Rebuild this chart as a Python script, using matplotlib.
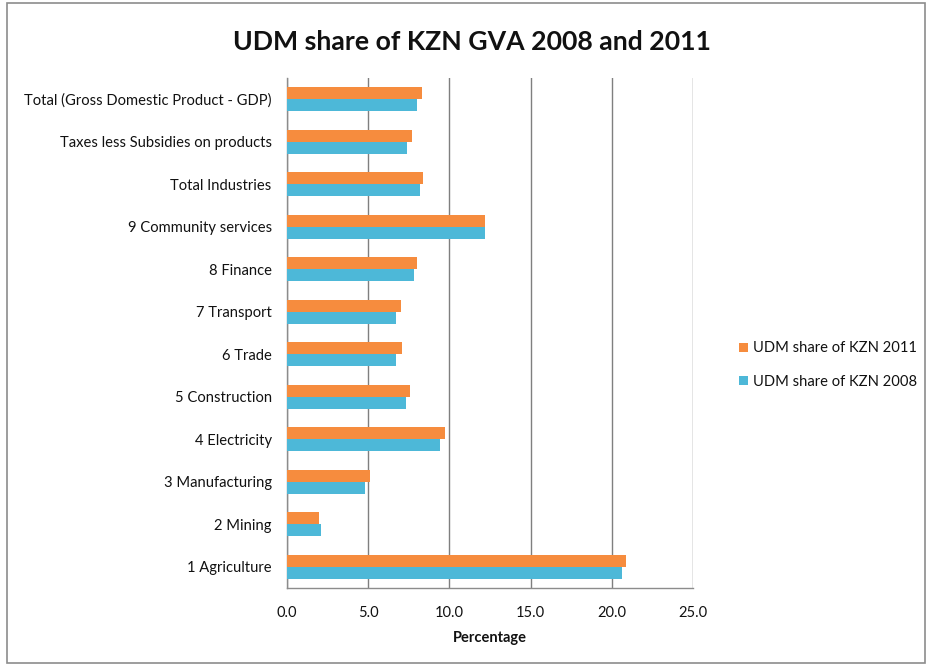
import matplotlib
matplotlib.use("Agg")
import matplotlib.pyplot as plt
from matplotlib.patches import Rectangle
import numpy as np

plt.rcParams['font.family'] = ['Lato', 'DejaVu Sans']

# Sectors listed bottom to top as drawn on the category axis
categories = [
    "1 Agriculture",
    "2 Mining",
    "3 Manufacturing",
    "4 Electricity",
    "5 Construction",
    "6 Trade",
    "7 Transport",
    "8 Finance",
    "9 Community services",
    "Total Industries",
    "Taxes less Subsidies on products",
    "Total (Gross Domestic Product - GDP)",
]
share_2011 = [20.9, 2.0, 5.1, 9.7, 7.6, 7.1, 7.0, 8.0, 12.2, 8.4, 7.7, 8.3]
share_2008 = [20.6, 2.1, 4.8, 9.4, 7.3, 6.7, 6.7, 7.8, 12.2, 8.2, 7.4, 8.0]
x_ticks = [0, 5, 10, 15, 20, 25]

W, H = 928, 666
fig = plt.figure(figsize=(W / 100, H / 100), dpi=100)
fig.patch.set_facecolor("white")

# outer chart frame
fig.add_artist(Rectangle((7 / W, 3 / H), (925 - 7) / W, (663 - 3) / H,
                         transform=fig.transFigure, fill=False,
                         edgecolor="#8c8c8c", linewidth=1.2))

ax = fig.add_axes([287 / W, (H - 588) / H, (693 - 287) / W, (588 - 78) / H])

y = np.arange(len(categories))
h = 0.28
orange = "#F68C3E"
blue = "#4DB8D8"
ax.barh(y + h / 2, share_2011, height=h, color=orange, label="UDM share of KZN 2011", zorder=3)
ax.barh(y - h / 2, share_2008, height=h, color=blue, label="UDM share of KZN 2008", zorder=3)

text_color = "#111111"
ax.set_xlim(0, 25)
ax.set_ylim(-0.5, len(categories) - 0.5)
ax.set_xticks(x_ticks)
ax.set_xticklabels([f"{v:.1f}" for v in x_ticks], fontsize=10.5, color=text_color)
ax.set_yticks(y)
ax.set_yticklabels(categories, fontsize=10.6, color=text_color)
ax.tick_params(axis="both", length=0)
ax.tick_params(axis="y", pad=11)
ax.tick_params(axis="x", pad=13)

ax.grid(axis="x", color="#7f7f7f", linewidth=1.0, zorder=0)
ax.set_axisbelow(True)
for side in ("top", "right"):
    ax.spines[side].set_visible(False)
for side in ("left", "bottom"):
    ax.spines[side].set_color("#8c8c8c")
    ax.spines[side].set_linewidth(1.0)

ax.set_xlabel("Percentage", fontsize=10.5, fontweight="bold", labelpad=8, color=text_color)

fig.text(472 / W, 1 - 42 / H, "UDM share of KZN GVA 2008 and 2011",
         ha="center", va="center", fontsize=19.2, fontweight="bold", color=text_color)

leg = ax.legend(loc="center left", bbox_to_anchor=(726 / W, 1 - 365 / H),
                bbox_transform=fig.transFigure, frameon=False, fontsize=10.6,
                handlelength=0.6, handleheight=0.6, handletextpad=0.35,
                labelspacing=1.3)
for t in leg.get_texts():
    t.set_color(text_color)

fig.savefig("out.png", dpi=100)
